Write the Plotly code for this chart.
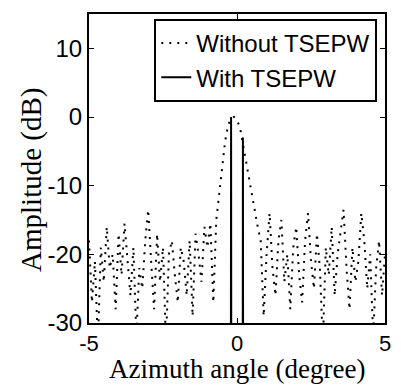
import plotly.graph_objects as go

angle = [round(-5 + 0.1 * i, 1) for i in range(101)]
without_db = [
    -18, -27, -21, -33, -19, -24, -16, -22, -20, -28,
    -17, -23, -15.5, -21, -26, -19, -32, -22, -25, -18,
    -13.5, -21, -28, -17, -24, -19, -33, -20, -18, -23,
    -27, -19, -21, -26, -18, -29, -17, -20, -24, -16,
    -19, -15.5, -27, -15, -11, -7, -3.5, -1.2, -0.2, 0,
    -0.5, -1.5, -4, -6.5, -8.5, -11, -14, -16, -18, -29,
    -20, -14, -22, -26, -18, -15, -24, -20, -28, -19,
    -16, -23, -27, -18, -14, -21, -25, -17, -22, -33,
    -19, -23, -16, -26, -20, -17, -13.5, -22, -28, -19,
    -24, -21, -14, -18, -25, -20, -32, -22, -18, -26,
    -20,
]
with_angle = [-0.21, -0.2, -0.19, 0.19, 0.2, 0.21]
with_db = [-60, 0, -60, -60, -3, -60]

x_ticks = [-5, 0, 5]
y_ticks = [-30, -20, -10, 0, 10]

serif = "Liberation Serif, Times New Roman"
sans = "Liberation Sans, Arial"

fig = go.Figure()
fig.add_trace(go.Scatter(
    x=angle, y=without_db, mode="lines", name="Without TSEPW",
    line=dict(color="black", width=2, dash="2px,6px"),
))
fig.add_trace(go.Scatter(
    x=with_angle, y=with_db, mode="lines", name="With TSEPW",
    line=dict(color="black", width=2),
))

axis_common = dict(
    showline=True, linecolor="black", linewidth=2, mirror="ticks",
    ticks="inside", ticklen=5, tickwidth=1, tickcolor="black",
    showgrid=False, zeroline=False,
)
fig.update_xaxes(range=[-5, 5], tickvals=x_ticks, ticktext=[str(v) for v in x_ticks],
                 tickfont=dict(family=sans, size=22, color="black"),
                 **axis_common)
fig.update_yaxes(range=[-30, 15], tickvals=y_ticks, ticktext=[str(v) for v in y_ticks],
                 tickfont=dict(family=sans, size=24, color="black"),
                 **axis_common)

fig.add_annotation(text="Azimuth angle (degree)", xref="paper", yref="paper",
                   x=0.5, y=0, yanchor="middle", yshift=-46, showarrow=False,
                   borderpad=0,
                   font=dict(family=serif, size=27, color="black"))
fig.add_annotation(text="Amplitude (dB)", xref="paper", yref="paper",
                   x=0, y=0.463, xanchor="center", xshift=-57, textangle=-90,
                   showarrow=False, font=dict(family=serif, size=29, color="black"))

fig.update_layout(
    width=401, height=385,
    margin=dict(l=89, r=10, t=14, b=62),
    plot_bgcolor="white", paper_bgcolor="white",
    legend=dict(x=0.974, y=0.984, xanchor="right", yanchor="top",
                bgcolor="white", bordercolor="black", borderwidth=2,
                font=dict(family=sans, size=24, color="black"),
                tracegroupgap=0, itemwidth=30),
    showlegend=True,
)

fig.write_html("out.html", config={"displayModeBar": False},
               post_script="document.body.style.margin='0';document.body.style.overflow='hidden';")
